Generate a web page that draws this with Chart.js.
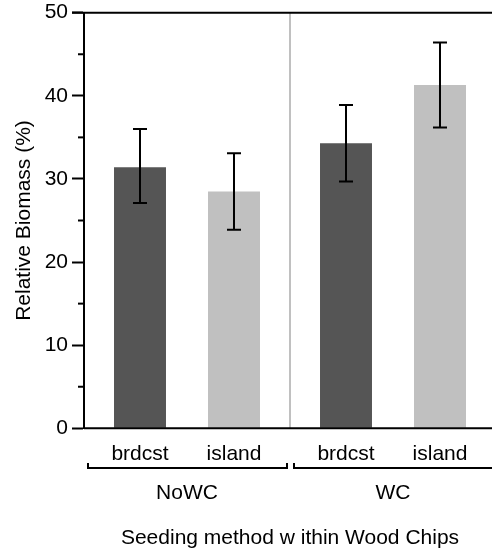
<!DOCTYPE html>
<html>
<head>
<meta charset="utf-8">
<script src="https://cdn.jsdelivr.net/npm/chart.js@4/dist/chart.umd.min.js"></script>
<style>
  html, body { margin: 0; padding: 0; background: #fff; overflow: hidden; }
  canvas { display: block; }
</style>
</head>
<body>
<canvas id="c" width="500" height="552"></canvas>
<script>
// ---- data ----
const groups = ['NoWC', 'WC'];
const methods = ['brdcst', 'island'];
const brdcstValues = [31.4, 34.3];
const islandValues = [28.5, 41.3];
const brdcstErrLow = [27.1, 29.7];
const brdcstErrHigh = [36.0, 38.9];
const islandErrLow = [23.9, 36.2];
const islandErrHigh = [33.1, 46.4];
const yMin = 0, yMax = 50, yMajorStep = 10, yMinorStep = 5;
const yTitle = 'Relative Biomass (%)';
const xTitle = 'Seeding method w ithin Wood Chips';

const FONT = '"Liberation Sans", Arial, Helvetica, sans-serif';
const errLows = [brdcstErrLow, islandErrLow];
const errHighs = [brdcstErrHigh, islandErrHigh];

const decorPlugin = {
  id: 'decor',
  beforeDatasetsDraw(chart) {
    const ctx = chart.ctx, ca = chart.chartArea, xs = chart.scales.x;
    const w = xs.getPixelForValue(1) - xs.getPixelForValue(0);
    ctx.save();
    ctx.strokeStyle = '#c0c0c0';
    ctx.lineWidth = 2;
    for (let i = 0; i < groups.length - 1; i++) {
      const bx = xs.getPixelForValue(i) + w / 2;
      ctx.beginPath(); ctx.moveTo(bx, ca.top); ctx.lineTo(bx, ca.bottom); ctx.stroke();
    }
    ctx.restore();
  },
  afterDatasetsDraw(chart) {
    const ctx = chart.ctx, ca = chart.chartArea, xs = chart.scales.x, ys = chart.scales.y;
    const w = xs.getPixelForValue(1) - xs.getPixelForValue(0);
    ctx.save();
    ctx.strokeStyle = '#000';
    ctx.lineWidth = 2;
    chart.data.datasets.forEach((ds, di) => {
      const meta = chart.getDatasetMeta(di);
      meta.data.forEach((bar, i) => {
        const yH = ys.getPixelForValue(errHighs[di][i]);
        const yL = ys.getPixelForValue(errLows[di][i]);
        ctx.beginPath();
        ctx.moveTo(bar.x, yH); ctx.lineTo(bar.x, yL);
        ctx.moveTo(bar.x - 7, yH); ctx.lineTo(bar.x + 7, yH);
        ctx.moveTo(bar.x - 7, yL); ctx.lineTo(bar.x + 7, yL);
        ctx.stroke();
      });
    });
    ctx.beginPath();
    ctx.moveTo(ca.left - 12, ys.getPixelForValue(yMax)); ctx.lineTo(ca.right + 10, ys.getPixelForValue(yMax));
    ctx.moveTo(ca.left, ys.getPixelForValue(yMin)); ctx.lineTo(ca.right + 10, ys.getPixelForValue(yMin));
    ctx.stroke();
    for (let v = yMin + yMinorStep; v < yMax; v += yMajorStep) {
      const y = ys.getPixelForValue(v);
      ctx.beginPath(); ctx.moveTo(ca.left - 6, y); ctx.lineTo(ca.left, y); ctx.stroke();
    }
    ctx.fillStyle = '#000';
    ctx.font = '21px ' + FONT;
    ctx.textAlign = 'center';
    ctx.textBaseline = 'alphabetic';
    chart.data.datasets.forEach((ds, di) => {
      chart.getDatasetMeta(di).data.forEach((bar) => {
        ctx.fillText(methods[di], bar.x, 460);
      });
    });
    groups.forEach((g, i) => {
      const c = xs.getPixelForValue(i);
      const l = c - w / 2 + 4, r = c + w / 2 - 3;
      ctx.beginPath();
      ctx.moveTo(l, 463); ctx.lineTo(l, 468); ctx.lineTo(r, 468); ctx.lineTo(r, 463);
      ctx.stroke();
      ctx.fillText(g, c, 499);
    });
    ctx.fillText(xTitle, (ca.left + ca.right) / 2, 544);
    ctx.translate(30, (ca.top + ca.bottom) / 2);
    ctx.rotate(-Math.PI / 2);
    ctx.fillText(yTitle, 0, 0);
    ctx.restore();
  }
};

new Chart(document.getElementById('c'), {
  type: 'bar',
  data: {
    labels: groups,
    datasets: [
      { label: methods[0], data: brdcstValues, backgroundColor: '#555555', borderWidth: 0 },
      { label: methods[1], data: islandValues, backgroundColor: '#c0c0c0', borderWidth: 0 }
    ]
  },
  options: {
    responsive: false,
    animation: false,
    devicePixelRatio: 1,
    layout: { padding: { left: 0, right: 4, top: 12.7, bottom: 123.7 } },
    datasets: { bar: { categoryPercentage: 0.9126, barPercentage: 0.553 } },
    plugins: { legend: { display: false }, tooltip: { enabled: false } },
    scales: {
      x: { display: false, offset: true },
      y: {
        min: yMin, max: yMax,
        ticks: {
          stepSize: yMinorStep, autoSkip: false, padding: 4, color: '#000',
          font: { family: FONT, size: 21 },
          callback: (v) => (v % yMajorStep === 0 ? String(v) : '')
        },
        grid: {
          drawOnChartArea: false, drawTicks: true, tickLength: 12, tickWidth: 2,
          tickColor: (c) => (c.tick && c.tick.value % yMajorStep === 0 ? '#000' : 'rgba(0,0,0,0)')
        },
        border: { color: '#000', width: 2 },
        afterFit: (s) => { s.width = 84; s.paddingTop = 0; s.paddingBottom = 0; }
      }
    }
  },
  plugins: [decorPlugin]
});
</script>
</body>
</html>
